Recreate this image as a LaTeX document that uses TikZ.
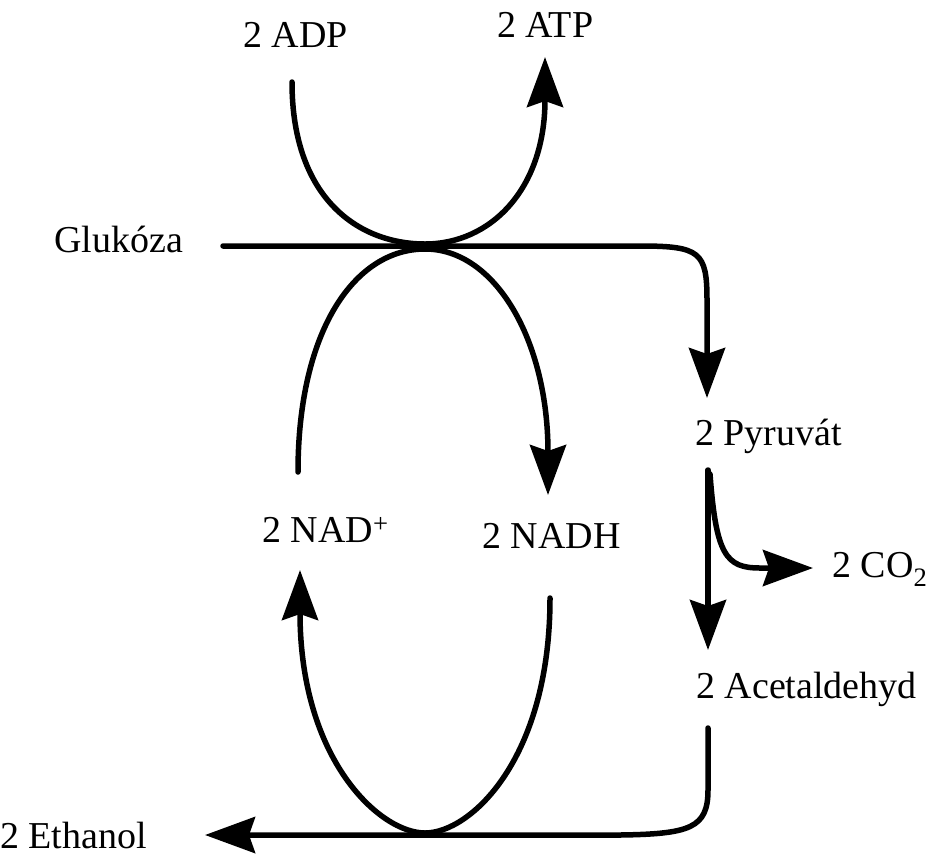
\documentclass[tikz,border=0pt]{standalone}
\usepackage{fontspec}
\setmainfont{Liberation Serif}
\usetikzlibrary{arrows.meta}
\begin{document}
\begin{tikzpicture}[x=1pt,y=-1pt,
  lbl/.style={anchor=base west,inner sep=0pt,font=\fontsize{38}{44}\selectfont},
  flow/.style={line width=5.5pt,line cap=round},
  tip/.style={-{Stealth[length=50pt,width=36pt,inset=6pt]}}]
\useasboundingbox (0,0) rectangle (931,855);
% labels
\node[lbl] (adp) at (243,47) {2 ADP};
\node[lbl] (atp) at (497,37) {2 ATP};
\node[lbl] (glc) at (54,252) {Glukóza};
\node[lbl] (pyr) at (695,445) {2 Pyruvát};
\node[lbl] (nad) at (262,542) {2 NAD\textsuperscript{+}};
\node[lbl] (nadh) at (482,548) {2 NADH};
\node[lbl] (co2) at (832,577) {2 CO\textsubscript{2}};
\node[lbl] (ace) at (696,698) {2 Acetaldehyd};
\node[lbl] (eth) at (0,848) {2 Ethanol};
% coordinates
\coordinate (adpS) at (292,82);
\coordinate (atpE) at (545,57);
\coordinate (glcS) at (223,246);
\coordinate (pyrE) at (707,398);
\coordinate (pyrS) at (708,470);
\coordinate (aceE) at (708,650);
\coordinate (co2E) at (813,568);
\coordinate (aceS) at (708,728);
\coordinate (ethE) at (205,835);
\coordinate (nadS) at (298,472);
\coordinate (nadhE) at (548,495);
\coordinate (nadhS) at (550,598);
\coordinate (nadE) at (300,570);
% top U: ADP -> ATP
\draw[flow,tip] (adpS) .. controls (292,200) and (360,244) .. (425,244)
   .. controls (490,244) and (545,190) .. (atpE);
% glucose -> pyruvate
\draw[flow,tip] (glcS) -- (640,246) .. controls (700,246) and (707,252) .. (707,300) -- (pyrE);
% NAD+ -> NADH (upper loop)
\draw[flow,tip] (nadS) .. controls (298,330) and (355,249) .. (425,249)
   .. controls (495,249) and (548,340) .. (nadhE);
% NADH -> NAD+ (lower loop)
\draw[flow,tip] (nadhS) .. controls (550,760) and (470,833) .. (425,833)
   .. controls (380,833) and (300,760) .. (nadE);
% pyruvate -> acetaldehyde
\draw[flow,tip] (pyrS) -- (aceE);
% pyruvate -> CO2
\draw[flow,tip] (710,474) .. controls (716,555) and (726,568) .. (760,568) -- (co2E);
% acetaldehyde -> ethanol
\draw[flow,tip] (aceS) -- (708,790) .. controls (708,828) and (690,834) .. (620,835) -- (ethE);
\end{tikzpicture}
\end{document}
